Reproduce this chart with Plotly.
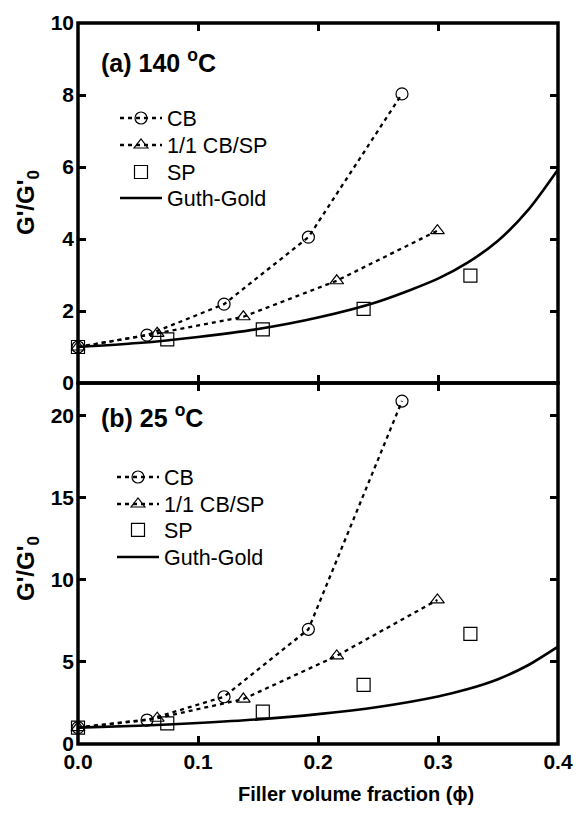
import plotly.graph_objects as go

# Filler volume fractions for each filler system
phi_cb = [0.0, 0.0575, 0.1217, 0.192, 0.270]
phi_mix = [0.0, 0.066, 0.1378, 0.2156, 0.2995]
phi_sp = [0.0, 0.0744, 0.154, 0.238, 0.327]

# (a) reduced storage modulus at 140 °C
g140_cb = [1.0, 1.33, 2.19, 4.05, 8.03]
g140_mix = [1.0, 1.38, 1.84, 2.84, 4.23]
g140_sp = [1.0, 1.21, 1.49, 2.06, 2.98]

# (b) reduced storage modulus at 25 °C
g25_cb = [1.0, 1.46, 2.88, 6.99, 20.9]
g25_mix = [1.0, 1.57, 2.74, 5.37, 8.78]
g25_sp = [1.0, 1.26, 1.97, 3.60, 6.71]

# Guth-Gold prediction
phi_gg = [0.0, 0.05, 0.1, 0.15, 0.2, 0.25, 0.3, 0.325, 0.35, 0.375, 0.4]
g_gg = [1.0, 1.11, 1.28, 1.50, 1.82, 2.26, 2.90, 3.35, 3.95, 4.80, 5.93]

names = ["CB", "1/1 CB/SP", "SP", "Guth-Gold"]
y_ticks_a = [0, 2, 4, 6, 8, 10]
y_ticks_b = [0, 5, 10, 15, 20]
x_ticks = [0.0, 0.1, 0.2, 0.3, 0.4]

FONT = "Liberation Sans"
W, H = 576, 816
ML, MR, MT, MB = 78, 18, 23, 72
split = 361 / 721  # boundary between the two panels (paper fraction)


def px_x(p):
    return (p - ML) / (W - ML - MR)


def px_y(p):
    return (H - MB - p) / (H - MT - MB)


DOT = "4px,4px"
mk_line = dict(color="black", width=1.2)

fig = go.Figure()


def add_panel(xa, ya, legs, g_cb, g_mix, g_sp):
    fig.add_trace(go.Scatter(
        x=phi_cb, y=g_cb, name=names[0], mode="lines+markers",
        line=dict(color="black", width=2.3, dash=DOT),
        marker=dict(symbol="circle-open", size=12, color="black", line=mk_line),
        xaxis=xa, yaxis=ya, legend=legs[0], cliponaxis=False))
    fig.add_trace(go.Scatter(
        x=phi_mix, y=g_mix, name=names[1], mode="lines+markers",
        line=dict(color="black", width=2.3, dash=DOT),
        marker=dict(symbol="triangle-up-open", size=12, color="black", line=mk_line),
        xaxis=xa, yaxis=ya, legend=legs[1], cliponaxis=False))
    fig.add_trace(go.Scatter(
        x=phi_sp, y=g_sp, name=names[2], mode="markers",
        marker=dict(symbol="square-open", size=13, color="black", line=mk_line),
        xaxis=xa, yaxis=ya, legend=legs[2], cliponaxis=False))
    fig.add_trace(go.Scatter(
        x=phi_gg, y=g_gg, name=names[3], mode="lines",
        line=dict(color="black", width=2.6, shape="spline", smoothing=0.8),
        xaxis=xa, yaxis=ya, legend=legs[3], cliponaxis=False))


legs_a = ["legend", "legend2", "legend3", "legend4"]
legs_b = ["legend5", "legend6", "legend7", "legend8"]
add_panel("x", "y", legs_a, g140_cb, g140_mix, g140_sp)
add_panel("x2", "y2", legs_b, g25_cb, g25_mix, g25_sp)

tickfont = dict(family=FONT, size=21, color="black", weight="bold")
common = dict(ticks="inside", ticklen=8, tickwidth=2.5, tickcolor="black",
              mirror="ticks", showline=False, showgrid=False, zeroline=False,
              automargin=False, tickfont=tickfont)

layout = dict(
    width=W, height=H,
    margin=dict(l=ML, r=MR, t=MT, b=MB, autoexpand=False),
    paper_bgcolor="white", plot_bgcolor="white",
    showlegend=True,
    xaxis=dict(domain=[0, 1], anchor="y", range=[0, 0.4], tickvals=x_ticks,
               showticklabels=False, **common),
    yaxis=dict(domain=[split, 1], anchor="x", range=[0, 10], tickvals=y_ticks_a,
               ticklabelstandoff=3, **common),
    xaxis2=dict(domain=[0, 1], anchor="y2", range=[0, 0.4], tickvals=x_ticks,
                tickformat=".1f", ticklabelstandoff=3, **common),
    yaxis2=dict(domain=[0, split], anchor="x2", range=[0, 22], tickvals=y_ticks_b,
                ticklabelstandoff=3, **common),
)

# One legend box per entry so the rows can be spaced freely
rows_a = [116, 143, 170, 196]
rows_b = [475, 502, 528, 555]
for legs, rows, left in [(legs_a, rows_a, 115), (legs_b, rows_b, 112)]:
    for key, row in zip(legs, rows):
        layout[key] = dict(x=px_x(left), y=px_y(row - 18.5), xanchor="left", yanchor="top",
                           bgcolor="rgba(0,0,0,0)", itemwidth=42,
                           font=dict(family=FONT, size=21.5, color="black"))

fig.update_layout(**layout)

# Panel frames
for y0, y1 in [(split, 1), (0, split)]:
    fig.add_shape(type="rect", xref="paper", yref="paper", x0=0, x1=1, y0=y0, y1=y1,
                  line=dict(color="black", width=3.5), fillcolor="rgba(0,0,0,0)",
                  layer="above")

bold = dict(family=FONT, color="black", weight="bold")

fig.add_annotation(text="(a) 140 <sup>o</sup>C", xref="paper", yref="paper",
                   x=px_x(99), y=px_y(61), xanchor="left", yanchor="middle",
                   showarrow=False, font=dict(size=25, **bold))
fig.add_annotation(text="(b) 25 <sup>o</sup>C", xref="paper", yref="paper",
                   x=px_x(99), y=px_y(416), xanchor="left", yanchor="middle",
                   showarrow=False, font=dict(size=25, **bold))
fig.add_annotation(text="Filler volume fraction (ϕ)", xref="paper", yref="paper",
                   x=px_x(356), y=px_y(794), xanchor="center", yanchor="middle",
                   showarrow=False, font=dict(size=20, **bold))
for yc in (203, 569):
    fig.add_annotation(text="G'/G'<sub>0</sub>", xref="paper", yref="paper",
                       x=px_x(27), y=px_y(yc), xanchor="center", yanchor="middle",
                       textangle=-90, showarrow=False, font=dict(size=24, **bold))

fig.write_html("out.html")
